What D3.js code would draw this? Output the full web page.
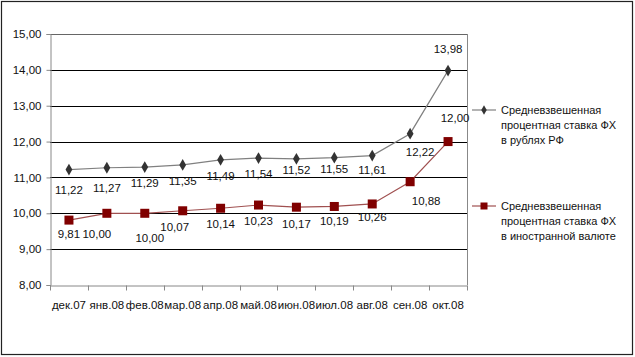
<!DOCTYPE html>
<html><head><meta charset="utf-8">
<script src="https://cdn.jsdelivr.net/npm/d3@7"></script>
<style>body{margin:0;background:#fff}svg{display:block}text{font-family:"Liberation Sans",Arial,sans-serif}</style>
</head><body><svg id="c" width="635" height="357"></svg>
<script>
const categories = ["дек.07","янв.08","фев.08","мар.08","апр.08","май.08","июн.08","июл.08","авг.08","сен.08","окт.08"];
const rubSeries = [11.22,11.27,11.29,11.35,11.49,11.54,11.52,11.55,11.61,12.22,13.98];
const fxSeries = [9.81,10.00,10.00,10.07,10.14,10.23,10.17,10.19,10.26,10.88,12.00];
const yTicks = [8,9,10,11,12,13,14,15];
const seriesNames = [
  ["Средневзвешенная","процентная ставка ФХ","в рублях РФ"],
  ["Средневзвешенная","процентная ставка ФХ","в иностранной валюте"]
];

const svg = d3.select("#c");
const fmt = v => d3.format(".2f")(v).replace(".", ",");
const FS = 11;
const L = 50, R = 467, T = 34, B = 285;
const x = d3.scaleBand().domain(categories).range([L, R]);
const y = d3.scaleLinear().domain([8, 15]).range([B, T]);

svg.append("rect").attr("x",1.5).attr("y",1.5).attr("width",631).attr("height",353)
  .attr("fill","#fff").attr("stroke","#222").attr("stroke-width",1.2);

// gridlines
svg.append("g").selectAll("line").data(yTicks.filter(t=>t>8)).join("line")
  .attr("x1",L).attr("x2",R).attr("y1",d=>Math.round(y(d))+0.5).attr("y2",d=>Math.round(y(d))+0.5)
  .attr("stroke",d=>d===15?"#666":"#000").attr("stroke-width",1);
// right border of plot
svg.append("line").attr("x1",R+0.5).attr("x2",R+0.5).attr("y1",T).attr("y2",B).attr("stroke","#888");

// y axis
const ya = svg.append("g").attr("transform",`translate(${L+0.5},0)`)
  .call(d3.axisLeft(y).tickValues(yTicks).tickFormat(fmt).tickSize(4).tickPadding(5));
ya.select(".domain").attr("stroke","#888");
ya.selectAll(".tick line").attr("stroke","#888");
ya.selectAll("text").attr("font-size",FS+0.5).attr("fill","#111");

// x axis
const xa = svg.append("g").attr("transform",`translate(0,${B+0.5})`)
  .call(d3.axisBottom(x).tickSize(0).tickPadding(15));
xa.select(".domain").attr("stroke","#888");
xa.selectAll("text").attr("font-size",FS+0.5).attr("fill","#111");
xa.append("g").selectAll("line").data(d3.range(categories.length+1)).join("line")
  .attr("x1",i=>Math.round(L + i*x.step())+0.5).attr("x2",i=>Math.round(L + i*x.step())+0.5)
  .attr("y1",0).attr("y2",5).attr("stroke","#888");

const cx = d => x(d) + x.bandwidth()/2;
const line = d3.line().x((d,i)=>cx(categories[i])).y(d=>y(d));

// grey series
svg.append("path").datum(rubSeries).attr("d",line).attr("fill","none").attr("stroke","#808080").attr("stroke-width",1.2);
const diamond = d3.symbol().type(d3.symbolDiamond).size(40);
svg.append("g").selectAll("path").data(rubSeries).join("path")
  .attr("d",diamond).attr("transform",(d,i)=>`translate(${cx(categories[i])},${y(d)})`).attr("fill","#333");

// red series
svg.append("path").datum(fxSeries).attr("d",line).attr("fill","none").attr("stroke","#a05050").attr("stroke-width",1.2);
svg.append("g").selectAll("rect").data(fxSeries).join("rect")
  .attr("x",(d,i)=>cx(categories[i])-4.5).attr("y",d=>y(d)-4.5).attr("width",9).attr("height",9)
  .attr("fill","#800000");

// labels (layout nudges, Excel-like)
const rubLabelDy = [20,20,16,16,16,16,11,11,14,18,-22];
const rubLabelDx = [0,0,0,0,0,0,0,0,0,10,0];
const fxLabelDy = [14,21,25,16,16,16,17,15,13,19,-24];
const fxLabelDx = [0,-10,5,-8,0,0,0,0,0,16,7];
svg.append("g").selectAll("text").data(rubSeries).join("text")
  .attr("x",(d,i)=>cx(categories[i])+rubLabelDx[i]).attr("y",(d,i)=>y(d)+rubLabelDy[i]+4)
  .attr("text-anchor","middle").attr("font-size",FS+0.5).attr("fill","#111").text(fmt);
svg.append("g").selectAll("text").data(fxSeries).join("text")
  .attr("x",(d,i)=>cx(categories[i])+fxLabelDx[i]).attr("y",(d,i)=>y(d)+fxLabelDy[i]+4)
  .attr("text-anchor","middle").attr("font-size",FS+0.5).attr("fill","#111").text(fmt);

// legend
const lg = [{y0:110,color:"#808080",mk:"d"},{y0:206,color:"#a05050",mk:"s"}];
lg.forEach((g,k)=>{
  svg.append("line").attr("x1",472).attr("x2",496).attr("y1",g.y0).attr("y2",g.y0).attr("stroke",g.color).attr("stroke-width",1.2);
  if(g.mk==="d") svg.append("path").attr("d",d3.symbol().type(d3.symbolDiamond).size(26)).attr("transform",`translate(484,${g.y0})`).attr("fill","#333");
  else svg.append("rect").attr("x",480.5).attr("y",g.y0-3.5).attr("width",7).attr("height",7).attr("fill","#800000");
  const t = svg.append("text").attr("x",501).attr("y",g.y0+4).attr("font-size",FS).attr("fill","#111");
  seriesNames[k].forEach((s,j)=>t.append("tspan").attr("x",501).attr("dy",j?15:0).text(s));
});
</script></body></html>
